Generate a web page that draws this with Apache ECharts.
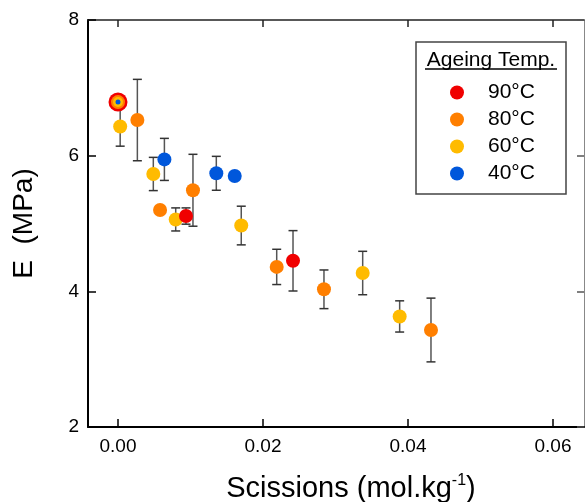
<!DOCTYPE html>
<html><head><meta charset="utf-8">
<script src="https://cdn.jsdelivr.net/npm/echarts@6/dist/echarts.min.js"></script>
<style>html,body{margin:0;padding:0;background:#fff}#c{width:585px;height:502px}</style>
</head><body><div id="c"></div>
<script>
// Data
const x90 = [0.00938, 0.02414];
const y90 = [5.11, 4.45];
const e90 = [0.12, 0.445];
const x80 = [0.00267, 0.0058, 0.01034, 0.02189, 0.02841, 0.04317];
const y80 = [6.525, 5.20, 5.49, 4.36, 4.03, 3.43];
const e80 = [0.6, 0, 0.53, 0.26, 0.285, 0.47];
const x60 = [0.0003, 0.00487, 0.00796, 0.0170, 0.03375, 0.03885];
const y60 = [6.43, 5.73, 5.06, 4.97, 4.27, 3.63];
const e60 = [0.29, 0.245, 0.17, 0.285, 0.32, 0.23];
const x40 = [0.0064, 0.01356, 0.0161];
const y40 = [5.945, 5.74, 5.70];
const e40 = [0.31, 0.25, 0];
const xUnaged = [0];
const yUnaged = [6.79];
const tempNames = ['90°C', '80°C', '60°C', '40°C'];
const xTicks = [0, 0.02, 0.04, 0.06];
const yTicks = [2, 4, 6, 8];

const colors = { '90°C': '#F00000', '80°C': '#FF7F00', '60°C': '#FFBB00', '40°C': '#0057DB' };
const XMIN = -0.004138, XMAX = 0.064276;
const FONT = 'Liberation Sans, Arial, sans-serif';

function pts(xs, ys) { return xs.map((x, i) => [x, ys[i]]); }
function errs(xs, ys, es) { return xs.map((x, i) => [x, ys[i], es[i]]); }
const errData = [].concat(errs(x60, y60, e60), errs(x40, y40, e40), errs(x80, y80, e80), errs(x90, y90, e90));

function errRender(params, api) {
  const x = api.value(0), y = api.value(1), e = api.value(2);
  if (!(e > 0)) return null;
  const t = api.coord([x, y + e]), b = api.coord([x, y - e]);
  const hw = 4.5;
  return { type: 'group', children: [
    { type: 'line', shape: { x1: t[0], y1: t[1], x2: b[0], y2: b[1] }, style: { stroke: '#555', lineWidth: 1.5 } },
    { type: 'line', shape: { x1: t[0] - hw, y1: t[1], x2: t[0] + hw, y2: t[1] }, style: { stroke: '#333', lineWidth: 1.5 } },
    { type: 'line', shape: { x1: b[0] - hw, y1: b[1], x2: b[0] + hw, y2: b[1] }, style: { stroke: '#333', lineWidth: 1.5 } }
  ]};
}

function scat(name, data, size, color, z) {
  return { type: 'scatter', name: name, data: data, symbol: 'circle', symbolSize: size,
    itemStyle: { color: color, opacity: 1 }, z: z, emphasis: { disabled: true }, silent: true };
}

const chart = echarts.init(document.getElementById('c'), null, { renderer: 'canvas' });
chart.setOption({
  animation: false,
  backgroundColor: '#fff',
  grid: { left: 88, right: 1, top: 20, bottom: 75, containLabel: false, outerBoundsMode: 'none' },
  legend: {
    data: tempNames, orient: 'vertical', left: 450, top: 82, padding: 0,
    itemWidth: 14, itemHeight: 14, itemGap: 6, icon: 'circle',
    textStyle: { fontSize: 21, fontFamily: FONT, color: '#000', lineHeight: 21, padding: [0, 0, 0, 19] },
    selectedMode: false
  },
  graphic: [
    { type: 'rect', shape: { x: 416, y: 42, width: 150, height: 152 }, style: { fill: 'none', stroke: '#444', lineWidth: 1.5 }, z: 10 },
    { type: 'text', x: 491, y: 60, style: { text: 'Ageing Temp.', fontSize: 21, fontFamily: FONT, fill: '#000', align: 'center', verticalAlign: 'middle' }, z: 10 },
    { type: 'line', shape: { x1: 425, y1: 69, x2: 557, y2: 69 }, style: { stroke: '#000', lineWidth: 1.5 }, z: 10 }
  ],
  xAxis: [{
    type: 'value', min: XMIN, max: XMAX, position: 'bottom',
    axisLine: { show: true, onZero: false, lineStyle: { color: '#000', width: 2 } },
    axisTick: { show: true, inside: true, length: 8, customValues: xTicks, lineStyle: { color: '#000', width: 1.5 } },
    axisLabel: { show: true, customValues: xTicks, formatter: v => v.toFixed(2), fontSize: 19, fontFamily: FONT, color: '#000', margin: 10 },
    splitLine: { show: false },
    name: '{a|Scissions (mol.kg}{s|-1}{a|)}', nameLocation: 'middle', nameGap: 46,
    nameTextStyle: { padding: [0, 0, 0, 30], rich: {
      a: { fontSize: 29, fontFamily: FONT, color: '#000', lineHeight: 31 },
      s: { fontSize: 16, fontFamily: FONT, color: '#000', verticalAlign: 'top', lineHeight: 31, padding: [0, 0, 14, 0] }
    } }
  }, {
    type: 'value', min: XMIN, max: XMAX, position: 'top',
    axisLine: { show: true, onZero: false, lineStyle: { color: '#222', width: 1.5 } },
    axisTick: { show: true, inside: true, length: 7, customValues: xTicks, lineStyle: { color: '#222', width: 1.5 } },
    axisLabel: { show: false }, splitLine: { show: false }
  }],
  yAxis: [{
    type: 'value', min: 2, max: 8, interval: 2, position: 'left',
    axisLine: { show: true, onZero: false, lineStyle: { color: '#000', width: 2 } },
    axisTick: { show: true, inside: true, length: 8, lineStyle: { color: '#000', width: 1.5 } },
    axisLabel: { show: true, fontSize: 19, fontFamily: FONT, color: '#000', margin: 9,
      formatter: v => yTicks.indexOf(v) >= 0 ? String(v) : '' },
    splitLine: { show: false },
    name: 'E  (MPa)', nameLocation: 'middle', nameGap: 50,
    nameTextStyle: { fontSize: 28, fontFamily: FONT, color: '#000' }
  }, {
    type: 'value', min: 2, max: 8, interval: 2, position: 'right',
    axisLine: { show: true, onZero: false, lineStyle: { color: '#888', width: 1 } },
    axisTick: { show: true, inside: true, length: 7, lineStyle: { color: '#555', width: 1.5 } },
    axisLabel: { show: false }, splitLine: { show: false }
  }],
  series: [
    { type: 'custom', name: 'err', renderItem: errRender, data: errData, z: 1, silent: true,
      encode: { x: 0, y: [1] }, clip: false },
    scat('40°C', pts(x40, y40), 14, colors['40°C'], 2),
    scat('60°C', pts(x60, y60), 14, colors['60°C'], 2),
    scat('80°C', pts(x80, y80), 14, colors['80°C'], 2),
    scat('90°C', pts(x90, y90), 14, colors['90°C'], 2),
    scat('unaged-90', pts(xUnaged, yUnaged), 19, colors['90°C'], 3),
    scat('unaged-80', pts(xUnaged, yUnaged), 14, colors['80°C'], 4),
    scat('unaged-60', pts(xUnaged, yUnaged), 10, colors['60°C'], 5),
    scat('unaged-40', pts(xUnaged, yUnaged), 5, colors['40°C'], 6)
  ]
});
</script></body></html>
